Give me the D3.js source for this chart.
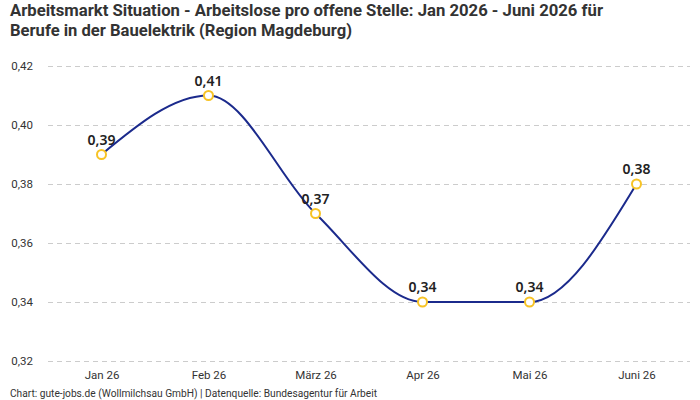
<!DOCTYPE html>
<html><head><meta charset="utf-8">
<script src="https://cdn.jsdelivr.net/npm/d3@7"></script>
<style>body{margin:0;background:#fff}svg{display:block}</style>
</head><body>
<svg id="c" width="700" height="400"></svg>
<script>
const categories = ["Jan 26","Feb 26","März 26","Apr 26","Mai 26","Juni 26"];
const values = [0.39, 0.41, 0.37, 0.34, 0.34, 0.38];
const yTicks = [0.32, 0.34, 0.36, 0.38, 0.40, 0.42];
const titleLines = ["Arbeitsmarkt Situation - Arbeitslose pro offene Stelle: Jan 2026 - Juni 2026 für","Berufe in der Bauelektrik (Region Magdeburg)"];
const footer = "Chart: gute-jobs.de (Wollmilchsau GmbH) | Datenquelle: Bundesagentur für Arbeit";

const svg = d3.select("#c");
const fmt = v => v.toFixed(2).replace(".", ",");
const x = d3.scalePoint().domain(categories).range([48, 690]).padding(0.5);
const y = d3.scaleLinear().domain([0.32, 0.42]).range([361, 66]);

// title
const tW = [593, 342];
svg.selectAll("text.title").data(titleLines).join("text")
  .attr("class","title").attr("x",10).attr("y",(d,i)=>16+i*20)
  .attr("font-family","Roboto, sans-serif").attr("font-weight","bold").attr("font-size",17)
  .attr("fill","#333").attr("textLength",(d,i)=>tW[i]).attr("lengthAdjust","spacingAndGlyphs")
  .text(d=>d);

// grid
const yAxis = d3.axisLeft(y).tickValues(yTicks).tickSize(-642).tickFormat(fmt).tickPadding(15);
const gy = svg.append("g").attr("transform","translate(48,0)").call(yAxis);
gy.select(".domain").remove();
gy.selectAll(".tick line").attr("stroke","#ccc").attr("stroke-dasharray","5,4");
gy.selectAll(".tick text").attr("font-family","Roboto, sans-serif").attr("font-size",11.5).attr("fill","#333");

const xAxis = d3.axisBottom(x).tickSize(0).tickPadding(10);
const gx = svg.append("g").attr("transform","translate(0,361)").call(xAxis);
gx.select(".domain").remove();
gx.selectAll(".tick text").attr("font-family","Roboto, sans-serif").attr("font-size",11.5).attr("fill","#333");

// line
const line = d3.line().x((d,i)=>x(categories[i])).y(d=>y(d)).curve(d3.curveMonotoneX);
svg.append("path").datum(values).attr("d",line).attr("fill","none").attr("stroke","#1b2a8c").attr("stroke-width",2);

svg.selectAll("circle.pt").data(values).join("circle").attr("class","pt")
  .attr("cx",(d,i)=>x(categories[i])).attr("cy",d=>y(d)).attr("r",4.5)
  .attr("fill","#fff").attr("stroke","#f7c325").attr("stroke-width",2);

svg.selectAll("text.lbl").data(values).join("text").attr("class","lbl")
  .attr("x",(d,i)=>x(categories[i])).attr("y",d=>y(d)-10)
  .attr("text-anchor","middle").attr("font-family","'Noto Sans', sans-serif").attr("font-weight",600)
  .attr("font-size",14).attr("fill","#222").text(fmt);

svg.append("text").attr("x",10).attr("y",397).attr("font-family","Roboto, sans-serif")
  .attr("font-size",10).attr("fill","#333").attr("textLength",367).attr("lengthAdjust","spacingAndGlyphs").text(footer);
</script>
</body></html>
